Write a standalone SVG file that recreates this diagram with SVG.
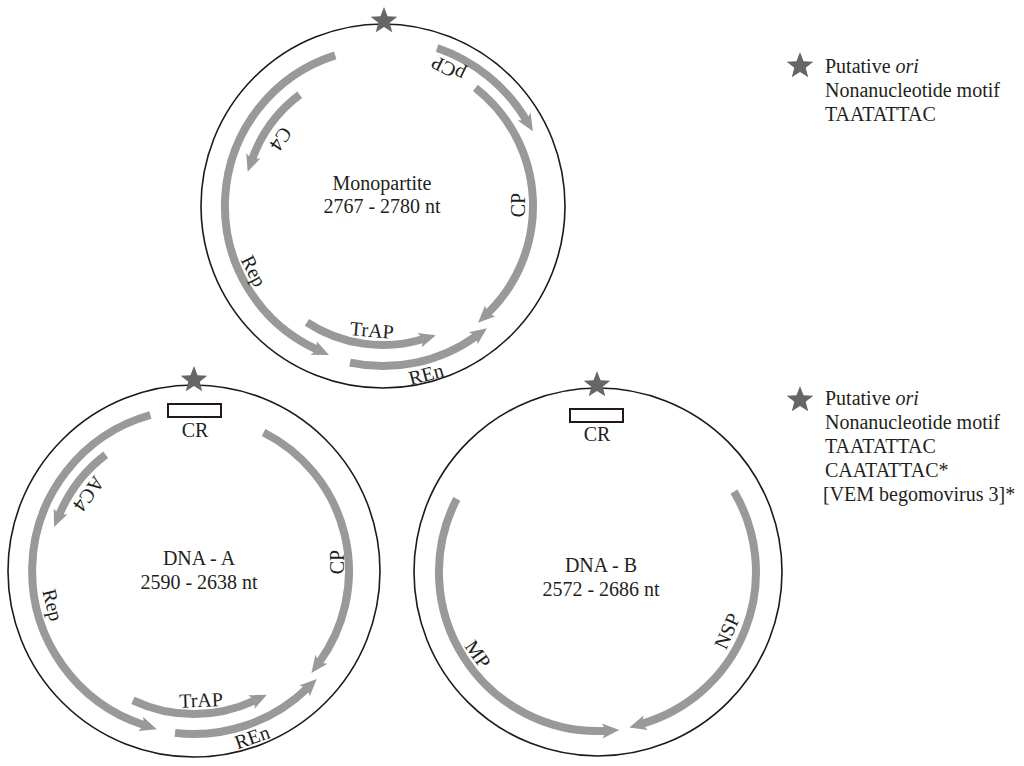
<svg xmlns="http://www.w3.org/2000/svg" width="1024" height="766" viewBox="0 0 1024 766">
<style>
.ring{fill:none;stroke:#231815;stroke-width:1.6}
.gene{fill:none;stroke:#999999;stroke-width:8;marker-end:url(#ah)}
.t{font-family:"Liberation Serif","Times New Roman",serif;fill:#231f20}
.c{font-size:20px;text-anchor:middle}
.g{font-size:20px;text-anchor:middle;dominant-baseline:central}
.lg{font-size:20px}
.cr{fill:#ffffff;stroke:#231815;stroke-width:2}
.star{fill:#666666}
</style>
<defs>
<marker id="ah" markerUnits="userSpaceOnUse" markerWidth="22" markerHeight="20" viewBox="-1 -10 20 20" refX="4" refY="0" orient="auto">
<path d="M17,0 L0,-7.5 L4,0 L0,7.5 Z" fill="#999999"/>
</marker>
<path id="st" d="M0,-14 L3.53,-4.85 L13.31,-4.33 L5.71,1.85 L8.23,11.33 L0,6 L-8.23,11.33 L-5.71,1.85 L-13.31,-4.33 L-3.53,-4.85 Z"/>
</defs>

<g id="monopartite">
<circle class="ring" cx="383" cy="206" r="182"/>
<use href="#st" class="star" x="384" y="21"/>
<text class="t c" x="382" y="190">Monopartite</text>
<text class="t c" x="382" y="213">2767 - 2780 nt</text>
</g>

<g id="dna-a">
<circle class="ring" cx="194" cy="571" r="186"/>
<use href="#st" class="star" x="194" y="380"/>
<rect class="cr" x="168" y="404" width="53" height="13"/>
<text class="t c" x="195" y="437">CR</text>
<text class="t c" x="199" y="565">DNA - A</text>
<text class="t c" x="199" y="589">2590 - 2638 nt</text>
</g>

<g id="dna-b">
<circle class="ring" cx="598" cy="572" r="184"/>
<use href="#st" class="star" x="597" y="385"/>
<rect class="cr" x="570" y="409" width="53" height="13"/>
<text class="t c" x="597" y="441">CR</text>
<text class="t c" x="601" y="572">DNA - B</text>
<text class="t c" x="601" y="596">2572 - 2686 nt</text>
</g>

<g id="connectors">
<!-- monopartite genes -->
<path class="gene" d="M437.1,48 A167,167 0 0 1 526.2,120"/>
<path class="gene" d="M475.4,87.8 A150,150 0 0 1 487.4,313.7"/>
<path class="gene" d="M335.2,55.4 A158,158 0 0 0 317.2,349.7"/>
<path class="gene" d="M299.7,94.7 A139,139 0 0 0 252,159.6"/>
<path class="gene" d="M306.9,322.3 A139,139 0 0 0 423.4,339"/>
<path class="gene" d="M350,362.6 A160,160 0 0 0 476.4,335.9"/>
<!-- DNA-A genes -->
<path class="gene" d="M150.4,415 A162,162 0 0 0 144.5,725.2"/>
<path class="gene" d="M105.7,454.7 A146,146 0 0 0 59.1,515.1"/>
<path class="gene" d="M263.6,432.5 A155,155 0 0 1 319.1,662.5"/>
<path class="gene" d="M132.9,700.3 A143,143 0 0 0 255.1,700.3"/>
<path class="gene" d="M175,732.9 A163,163 0 0 0 307.4,688.1"/>
<!-- DNA-B genes -->
<path class="gene" d="M456.8,498.8 A159,159 0 0 0 606.3,730.8"/>
<path class="gene" d="M734,491.6 A158,158 0 0 1 641.8,723.8"/>
</g>

<g id="gene-labels">
<text class="t g" transform="translate(448,69) rotate(206)">pCP</text>
<text class="t g" transform="translate(281,139) rotate(124)">C4</text>
<text class="t g" transform="translate(518,205) rotate(-90)">CP</text>
<text class="t g" transform="translate(254,271) rotate(63)">Rep</text>
<text class="t g" transform="translate(372,330) rotate(5)">TrAP</text>
<text class="t g" transform="translate(426,374) rotate(-15)">REn</text>
<text class="t g" transform="translate(89,494) rotate(126)">AC4</text>
<text class="t g" transform="translate(337,562) rotate(-90)">CP</text>
<text class="t g" transform="translate(53,605) rotate(76)">Rep</text>
<text class="t g" transform="translate(201,700) rotate(-2)">TrAP</text>
<text class="t g" transform="translate(252,737) rotate(-19)">REn</text>
<text class="t g" transform="translate(478,654) rotate(55)">MP</text>
<text class="t g" transform="translate(727,631) rotate(-66)">NSP</text>
</g>

<g id="legend-1">
<use href="#st" class="star" x="800" y="66"/>
<text class="t lg" x="825" y="73">Putative <tspan font-style="italic">ori</tspan></text>
<text class="t lg" x="825" y="97">Nonanucleotide motif</text>
<text class="t lg" x="825" y="121">TAATATTAC</text>
</g>

<g id="legend-2">
<use href="#st" class="star" x="800" y="400"/>
<text class="t lg" x="825" y="405">Putative <tspan font-style="italic">ori</tspan></text>
<text class="t lg" x="825" y="429">Nonanucleotide motif</text>
<text class="t lg" x="825" y="453">TAATATTAC</text>
<text class="t lg" x="825" y="477">CAATATTAC*</text>
<text class="t lg" x="823" y="501">[VEM begomovirus 3]*</text>
</g>
</svg>
